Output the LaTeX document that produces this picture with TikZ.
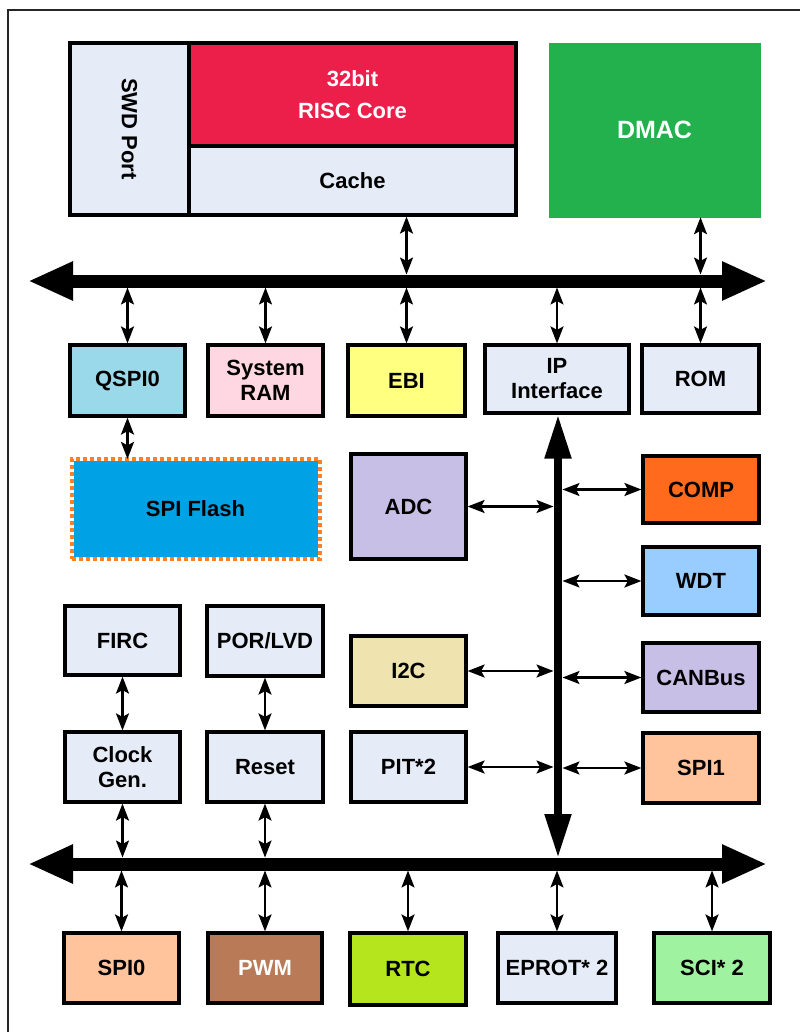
\documentclass[tikz,border=0pt]{standalone}
\usepackage{fontspec}
\setmainfont{Liberation Sans}
\usetikzlibrary{arrows.meta}
\definecolor{lgray}{HTML}{E6ECF7}
\definecolor{corered}{HTML}{EC1F4A}
\definecolor{dmacg}{HTML}{22B14C}
\definecolor{qspic}{HTML}{99D9EA}
\definecolor{ramc}{HTML}{FFD7E3}
\definecolor{ebic}{HTML}{FFFF80}
\definecolor{flashc}{HTML}{00A2E6}
\definecolor{flashb}{HTML}{FF7F27}
\definecolor{lav}{HTML}{C8BFE7}
\definecolor{compc}{HTML}{FF6A1C}
\definecolor{wdtc}{HTML}{99CCFF}
\definecolor{i2cc}{HTML}{EFE4B0}
\definecolor{peach}{HTML}{FFC49B}
\definecolor{pwmc}{HTML}{B97A57}
\definecolor{rtcc}{HTML}{B5E61D}
\definecolor{scic}{HTML}{9FF29F}
\begin{document}
\begin{tikzpicture}[x=1pt,y=-1pt,
  box/.style={draw=black, line width=3.2pt, align=center, inner sep=0pt,
    font=\bfseries\fontsize{22}{25}\selectfont},
  sz/.style 2 args={minimum width=#1pt, minimum height=#2pt},
  conn/.style={line width=2.2pt, {Stealth[length=17pt,width=13pt,inset=3.5pt]}-{Stealth[length=17pt,width=13pt,inset=3.5pt]}},
  bus/.style={line width=13pt, {Triangle[length=45pt,width=36pt]}-{Triangle[length=45pt,width=36pt]}},
  vbus/.style={line width=8pt, {Triangle[length=44pt,width=25pt]}-{Triangle[length=44pt,width=25pt]}},
]
\useasboundingbox (0,0) rectangle (800,1032);
\fill[white] (0,0) rectangle (800,1032);
% frame
\draw[line width=2.5pt, black!85] (8,1032) -- (8,10) -- (800,10);

% core block
\node[box, fill=lgray, sz={119}{172}] (swd) at (129.5,129) {\rotatebox{-90}{SWD Port}};
\node[box, fill=corered, text=white, sz={327}{103}] (core) at (352.5,94.5) {32bit\\[7pt]RISC Core};
\node[box, fill=lgray, sz={327}{69}] (cache) at (352.5,180.5) {Cache};
\draw[line width=4pt] (70,43) rectangle (516,215);
\node[box, draw=dmacg, line width=0.5pt, fill=dmacg, text=white, sz={211}{174},
  font=\bfseries\fontsize{25}{28}\selectfont] (dmac) at (654.5,130) {DMAC};

% row 2
\node[box, fill=qspic, sz={115}{71}] (qspi) at (127.5,380.5) {QSPI0};
\node[box, fill=ramc, sz={115}{71}] (ram) at (265.5,380.5) {System\\RAM};
\node[box, fill=ebic, sz={117}{71}] (ebi) at (406.5,380.5) {EBI};
\node[box, fill=lgray, sz={144}{68}] (ip) at (557,379) {IP\\Interface};
\node[box, fill=lgray, sz={117}{68}] (rom) at (700.5,379) {ROM};

% middle
\node[box, draw=none, fill=flashc, sz={248}{100},
  postaction={draw=white, line width=4pt},
  postaction={draw=flashb, line width=4pt, dash pattern=on 4pt off 3pt}] (flash) at (195.5,508.5) {SPI Flash};
\node[box, fill=lav, sz={115}{105}] (adc) at (408.5,506.5) {ADC};
\node[box, fill=compc, sz={116}{67}] (comp) at (701,489.5) {COMP};
\node[box, fill=wdtc, sz={116}{68}] (wdt) at (701,581) {WDT};
\node[box, fill=lgray, sz={115}{69}] (firc) at (122.5,640.5) {FIRC};
\node[box, fill=lgray, sz={116}{70}] (por) at (265,641) {POR/LVD};
\node[box, fill=i2cc, sz={115}{70}] (i2c) at (408.5,671) {I2C};
\node[box, fill=lav, sz={116}{69}] (can) at (701,677.5) {CANBus};
\node[box, fill=lgray, sz={115}{70}] (clk) at (122.5,767) {Clock\\Gen.};
\node[box, fill=lgray, sz={116}{70}] (rst) at (265,767) {Reset};
\node[box, fill=lgray, sz={115}{70}] (pit) at (408.5,767) {PIT*2};
\node[box, fill=peach, sz={116}{70}] (spi1) at (701,768) {SPI1};

% bottom row
\node[box, fill=peach, sz={115}{70}] (spi0) at (121.5,968) {SPI0};
\node[box, fill=pwmc, text=white, sz={114}{70}] (pwm) at (265,968) {PWM};
\node[box, fill=rtcc, sz={116}{72}] (rtc) at (408,969) {RTC};
\node[box, fill=lgray, sz={118}{70}] (eprot) at (557,968) {EPROT* 2};
\node[box, fill=scic, sz={116}{70}] (sci) at (712,968) {SCI* 2};

% buses
\coordinate (tbL) at (28,281);
\coordinate (tbR) at (767,281);
\coordinate (tbU) at (0,274.5);
\coordinate (tbD) at (0,287.5);
\coordinate (bbL) at (28,864);
\coordinate (bbR) at (767,864);
\coordinate (bbU) at (0,857.5);
\coordinate (bbD) at (0,870.5);
\coordinate (vL) at (553.5,0);
\coordinate (vR) at (562.5,0);
\draw[bus] (tbL) -- (tbR);
\draw[bus] (bbL) -- (bbR);
\draw[vbus] (ip.south -| 558,0) -- (558,858);

% top connectors
\draw[conn] (cache.south -| ebi.north) -- (ebi.north |- tbU);
\draw[conn] (dmac.south -| rom.north) -- (rom.north |- tbU);
\draw[conn] (qspi.north) -- (qspi.north |- tbD);
\draw[conn] (ram.north) -- (ram.north |- tbD);
\draw[conn] (ebi.north) -- (ebi.north |- tbD);
\draw[conn] (ip.north) -- (ip.north |- tbD);
\draw[conn] (rom.north) -- (rom.north |- tbD);
\draw[conn] (qspi.south) -- ([yshift=-2pt]qspi.south |- flash.north);

% side connectors to vertical bus
\draw[conn] (adc.east) -- (adc.east -| vL);
\draw[conn] (i2c.east) -- (i2c.east -| vL);
\draw[conn] (pit.east) -- (pit.east -| vL);
\draw[conn] (comp.west) -- (comp.west -| vR);
\draw[conn] (wdt.west) -- (wdt.west -| vR);
\draw[conn] (can.west) -- (can.west -| vR);
\draw[conn] (spi1.west) -- (spi1.west -| vR);

% left column
\draw[conn] (firc.south) -- (clk.north);
\draw[conn] (por.south) -- (rst.north);
\draw[conn] (clk.south) -- (clk.south |- bbU);
\draw[conn] (rst.south) -- (rst.south |- bbU);

% bottom connectors
\draw[conn] (spi0.north) -- (spi0.north |- bbD);
\draw[conn] (pwm.north) -- (pwm.north |- bbD);
\draw[conn] (rtc.north) -- (rtc.north |- bbD);
\draw[conn] (eprot.north) -- (eprot.north |- bbD);
\draw[conn] (sci.north) -- (sci.north |- bbD);
\end{tikzpicture}
\end{document}
